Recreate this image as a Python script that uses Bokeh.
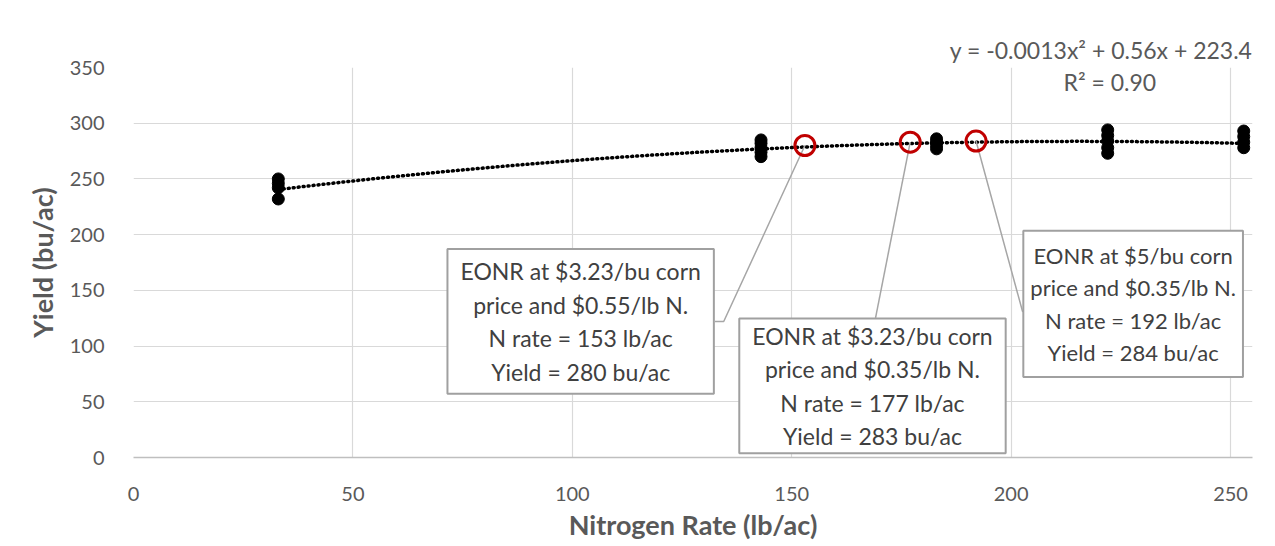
from bokeh.plotting import figure
from bokeh.models import Label, Range1d, ColumnDataSource, FixedTicker, Title
from bokeh.embed import file_html
from bokeh.resources import INLINE
import numpy as np

# ---- data ----
nitrogen_rate = [33, 33, 33, 33,
                 143, 143, 143, 143, 143,
                 183, 183, 183, 183,
                 222, 222, 222, 222, 222,
                 253, 253, 253, 253]
yield_obs = [232, 242, 246, 250,
             270, 274, 278, 282, 285,
             277, 280, 283, 286,
             273, 278, 284, 289, 294,
             278, 283, 288, 293]

# quadratic trend line coefficients shown on the chart
trend_coef = [-0.0013, 0.56, 223.4]
equation_text = "y = -0.0013x\u00b2 + 0.56x + 223.4"
r2_text = "R\u00b2 = 0.90"

eonr_rate = [153, 177, 192]
eonr_yield = [280, 283, 284]
eonr_texts = [
    "EONR at $3.23/bu corn\nprice and $0.55/lb N.\nN rate = 153 lb/ac\nYield = 280 bu/ac",
    "EONR at $3.23/bu corn\nprice and $0.35/lb N.\nN rate = 177 lb/ac\nYield = 283 bu/ac",
    "EONR at $5/bu corn\nprice and $0.35/lb N.\nN rate = 192 lb/ac\nYield = 284 bu/ac",
]

x_ticks = [0, 50, 100, 150, 200, 250]
y_ticks = [0, 50, 100, 150, 200, 250, 300, 350]

FONT = "Lato"
GRAY_TXT = "#595959"

p = figure(width=1270, height=543, output_backend="svg", toolbar_location=None,
           x_range=Range1d(0, 255), y_range=Range1d(0, 350),
           min_border_left=133, min_border_right=18, min_border_top=67,
           min_border_bottom=80)
p.outline_line_color = None
p.background_fill_color = "white"
p.border_fill_color = "white"

p.xaxis.ticker = FixedTicker(ticks=x_ticks)
p.yaxis.ticker = FixedTicker(ticks=y_ticks)
for ax in (p.xaxis[0], p.yaxis[0]):
    ax.major_tick_line_color = None
    ax.minor_tick_line_color = None
    ax.major_label_text_font = FONT
    ax.major_label_text_font_size = "20px"
    ax.major_label_text_color = GRAY_TXT
    ax.axis_label_text_font = FONT
    ax.axis_label_text_font_size = "27px"
    ax.axis_label_text_font_style = "bold"
    ax.axis_label_text_color = GRAY_TXT
p.xaxis.axis_line_color = "#bfbfbf"
p.xaxis.axis_line_width = 1.5
p.yaxis.axis_line_color = None
p.xaxis.major_label_standoff = 23
p.yaxis.major_label_standoff = 23
p.xaxis.axis_label = "Nitrogen Rate (lb/ac)"
p.yaxis.axis_label = "Yield (bu/ac)"
p.xaxis.axis_label_standoff = 4
p.yaxis.axis_label_standoff = 8

p.xgrid.ticker = FixedTicker(ticks=x_ticks)
p.ygrid.ticker = FixedTicker(ticks=y_ticks)
p.grid.grid_line_color = "#d9d9d9"
p.grid.grid_line_width = 1.2

# equation (above the frame) and R^2
p.add_layout(Title(text=equation_text, align="right", text_font=FONT,
                   text_font_size="23px", text_color=GRAY_TXT,
                   text_font_style="normal", standoff=8), "above")

# trend line
tx = np.linspace(min(nitrogen_rate), max(nitrogen_rate), 200)
ty = np.polyval(trend_coef, tx)
p.line(tx, ty, line_color="black", line_width=3.5, line_dash="1 4", line_cap="round")

# leader lines
leaders = [
    ([153, 134.5, 132.5], [280, 122, 122]),
    ([177, 169.1], [283, 125.3]),
    ([192, 202.6, 204.3], [284, 131, 131]),
]
for lx, ly in leaders:
    p.line(lx, ly, line_color="#a6a6a6", line_width=1.5)

# observations
src = ColumnDataSource(dict(x=nitrogen_rate, y=yield_obs))
p.scatter("x", "y", source=src, size=12, fill_color="black", line_color="black")

# EONR circles
p.scatter(eonr_rate, eonr_yield, size=20, fill_color=None, line_color="#c00000", line_width=3)

# annotation boxes
box_specs = [
    (101.9, 122.2, "23px", dict(left=13, right=13, top=8, bottom=8)),
    (168.4, 64.2, "23px", dict(left=13, right=13, top=3, bottom=3)),
    (227.8, 137.9, "22px", dict(left=7, right=7, top=11, bottom=11)),
]
for (bx, by, fs, pad), txt in zip(box_specs, eonr_texts):
    p.add_layout(Label(x=bx, y=by, text=txt, text_align="center", text_baseline="middle",
                       text_font=FONT, text_font_size=fs, text_color="#404040",
                       text_line_height=1.2,
                       border_line_color="#a0a0a0", border_line_width=2,
                       background_fill_color="white", padding=pad))

p.add_layout(Label(x=222.5, y=336.6, text=r2_text, text_align="center",
                   text_baseline="middle", text_font=FONT, text_font_size="23px",
                   text_color=GRAY_TXT))

open("out.html", "w").write(file_html(p, INLINE))
